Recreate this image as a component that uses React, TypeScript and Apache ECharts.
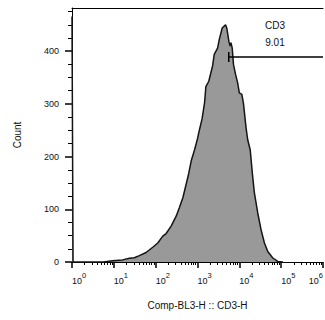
import { useEffect, useRef } from "react";
import * as echarts from "echarts";

// Histogram bins: x as decade exponent (log10 of CD3-H), y as event count
const binExponent = [
  0, 0.012, 0.025, 0.75, 0.97, 1.21, 1.37, 1.49, 1.61, 1.77, 1.93, 2.05, 2.17, 2.25, 2.37,
  2.49, 2.57, 2.65, 2.73, 2.79, 2.85, 2.93, 3.0, 3.05, 3.11, 3.17, 3.2, 3.27, 3.36,
  3.4, 3.48, 3.52, 3.59, 3.67, 3.7, 3.75, 3.78, 3.8, 3.83, 3.86, 3.91, 3.96, 4.0,
  4.06, 4.1, 4.16, 4.2, 4.26, 4.31, 4.36, 4.44, 4.52, 4.6, 4.68, 4.8, 4.92, 5.04,
];
const binCount = [
  466, 466, 0, 0, 2.5, 4, 7, 8, 12, 18, 28, 36, 49, 54, 68,
  87, 104, 122, 148, 168, 192, 213, 234, 252, 272, 303, 333, 343, 372,
  394, 406, 422, 444, 450, 444, 419, 410, 416, 406, 375, 356, 340, 321,
  318, 300, 255, 232, 213, 169, 131, 93, 61, 36, 20, 7.6, 1, 0,
];

const decadeTicks = [0, 1, 2, 3, 4, 5, 6];
const countTicks = [0, 100, 200, 300, 400];
const countMinorTicks = [
  25, 50, 75, 125, 150, 175, 225, 250, 275, 325, 350, 375, 425, 450, 475,
];
const minorMultipliers = [2, 3, 4, 5, 6, 7, 8, 9];

const gateName = "CD3";
const gatePercent = "9.01";
const gateLowExponent = 3.747;
const gateHighExponent = 6;
const gateCount = 389;
const gateCapHalf = 9.5;

const xAxisTitle = "Comp-BL3-H :: CD3-H";
const yAxisTitle = "Count";

const FONT = "'Liberation Sans', Arial, sans-serif";

export default function App() {
  const ref = useRef<HTMLDivElement>(null);

  useEffect(() => {
    if (!ref.current) return;
    const chart = echarts.init(ref.current, null, { renderer: "svg" });

    const xMinor: number[] = [];
    for (let d = 0; d < decadeTicks.length - 1; d++) {
      for (const m of minorMultipliers) xMinor.push(Math.log10(m * Math.pow(10, decadeTicks[d])));
    }

    const histData = binExponent.map((x, i) => [x, binCount[i]]);

    chart.setOption({
      animation: false,
      backgroundColor: "#ffffff",
      textStyle: { fontFamily: FONT },
      grid: {
        left: 72,
        right: 2,
        top: 8,
        bottom: 58,
        containLabel: false,
        outerBoundsMode: "none",
      },
      xAxis: [
        {
          type: "value",
          position: "bottom",
          min: 0,
          max: 6,
          interval: 1,
          axisLine: { show: true, lineStyle: { color: "#000", width: 1 } },
          axisTick: { show: true, length: 6, lineStyle: { color: "#000", width: 1.5 } },
          splitLine: { show: false },
          axisLabel: {
            margin: 9.5,
            align: "left",
            alignMaxLabel: "right",
            color: "#111",
            formatter: (v: number) => `{b|10}{s|${v}}`,
            rich: {
              b: {
                fontSize: 9,
                fontFamily: FONT,
                color: "#111",
                lineHeight: 19,
                verticalAlign: "middle",
              },
              s: {
                fontSize: 7.5,
                fontFamily: FONT,
                color: "#111",
                lineHeight: 6,
                verticalAlign: "top",
              },
            },
          },
          name: xAxisTitle,
          nameLocation: "middle",
          nameGap: 38,
          nameTextStyle: { fontSize: 10, color: "#111", fontFamily: FONT },
        },
        {
          type: "value",
          position: "bottom",
          min: 0,
          max: 6,
          axisLine: { show: false },
          axisTick: {
            show: true,
            length: 3,
            customValues: xMinor,
            lineStyle: { color: "#000", width: 1 },
          },
          axisLabel: { show: false },
          splitLine: { show: false },
        },
        {
          type: "value",
          position: "top",
          min: 0,
          max: 6,
          axisLine: { show: true, lineStyle: { color: "#000", width: 1 } },
          axisTick: { show: false },
          axisLabel: { show: false },
          splitLine: { show: false },
        },
      ],
      yAxis: [
        {
          type: "value",
          position: "left",
          min: 0,
          max: 482,
          axisLine: { show: true, lineStyle: { color: "#000", width: 1 } },
          axisTick: {
            show: true,
            length: 7,
            customValues: countTicks,
            lineStyle: { color: "#000", width: 1.5 },
          },
          axisLabel: {
            customValues: countTicks,
            margin: 13,
            fontSize: 9,
            color: "#111",
            fontFamily: FONT,
          },
          splitLine: { show: false },
          name: yAxisTitle,
          nameLocation: "middle",
          nameGap: 50,
          nameTextStyle: { fontSize: 10, color: "#111", fontFamily: FONT },
        },
        {
          type: "value",
          position: "left",
          min: 0,
          max: 482,
          axisLine: { show: false },
          axisTick: {
            show: true,
            length: 4,
            customValues: countMinorTicks,
            lineStyle: { color: "#000", width: 1 },
          },
          axisLabel: { show: false },
          splitLine: { show: false },
        },
      ],
      series: [
        {
          type: "line",
          xAxisIndex: 0,
          yAxisIndex: 0,
          data: histData,
          symbol: "none",
          smooth: false,
          clip: false,
          lineStyle: { color: "#151515", width: 1.5 },
          areaStyle: { color: "#999999", opacity: 1 },
          z: 2,
        },
        {
          type: "line",
          xAxisIndex: 0,
          yAxisIndex: 0,
          data: [
            [gateLowExponent, gateCount],
            [gateHighExponent, gateCount],
          ],
          symbol: "none",
          lineStyle: { color: "#000", width: 1.5 },
          z: 3,
        },
        {
          type: "line",
          xAxisIndex: 0,
          yAxisIndex: 0,
          data: [
            [gateLowExponent, gateCount - gateCapHalf],
            [gateLowExponent, gateCount + gateCapHalf],
          ],
          symbol: "none",
          lineStyle: { color: "#000", width: 1.5 },
          z: 3,
        },
      ],
      graphic: [
        {
          type: "text",
          x: 275,
          y: 25,
          style: {
            text: gateName,
            fontSize: 10,
            fontFamily: FONT,
            fill: "#111",
            align: "center",
            verticalAlign: "middle",
          },
        },
        {
          type: "text",
          x: 275,
          y: 42,
          style: {
            text: gatePercent,
            fontSize: 10,
            fontFamily: FONT,
            fill: "#111",
            align: "center",
            verticalAlign: "middle",
          },
        },
      ],
    });

    return () => chart.dispose();
  }, []);

  return (
    <div
      ref={ref}
      style={{ position: "fixed", left: 0, top: 0, width: 325, height: 320 }}
    />
  );
}
